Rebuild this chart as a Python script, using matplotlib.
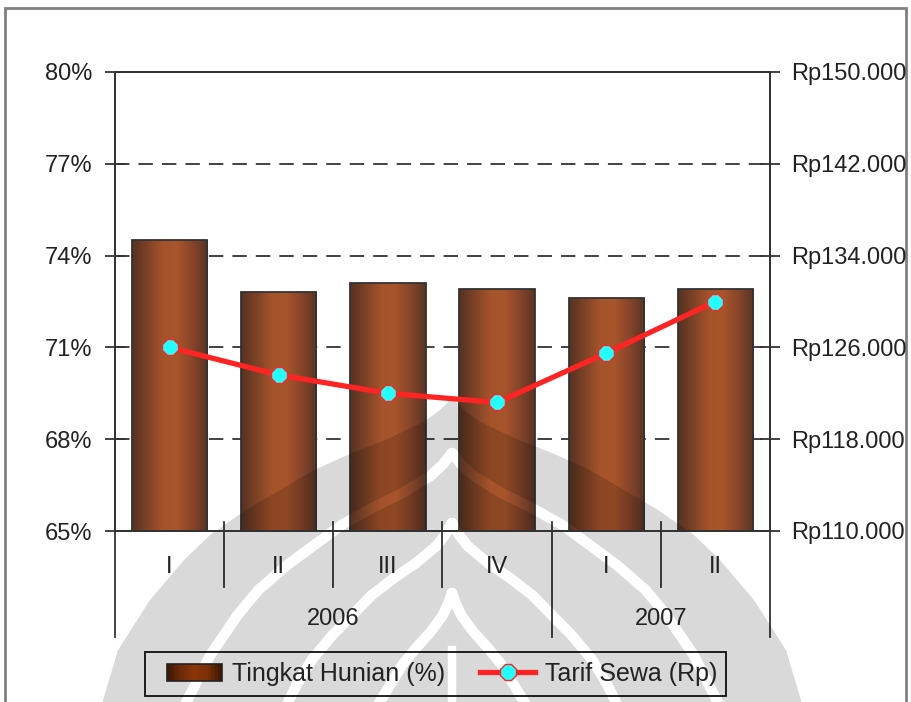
import numpy as np
import matplotlib
matplotlib.use("Agg")
import matplotlib.pyplot as plt
from matplotlib.colors import LinearSegmentedColormap
from matplotlib.legend_handler import HandlerBase
from matplotlib.lines import Line2D
from matplotlib.patches import Rectangle, Polygon
from matplotlib.transforms import blended_transform_factory

plt.rcParams["font.family"] = ["Liberation Sans", "DejaVu Sans"]

# Hotel occupancy (%) and average room rate (Rp) per quarter
PERIODS = ["I", "II", "III", "IV", "I", "II"]
YEARS = ["2006", "2007"]
YEAR_SPANS = [(0, 3), (4, 5)]          # first / last period index of each year
OCCUPANCY = [74.5, 72.8, 73.1, 72.9, 72.6, 72.9]
ROOM_RATE = [126000, 123600, 122000, 121200, 125500, 130000]

PCT_TICKS = [65, 68, 71, 74, 77, 80]
RP_TICKS = [110000, 118000, 126000, 134000, 142000, 150000]

W, H = 911, 702
INK = "#333333"
TXT = "#222222"
FS = 17


def fx(px):
    return px / W


def fy(py):
    return 1 - py / H


bar_cmap = LinearSegmentedColormap.from_list(
    "bar", ["#553222", "#7c4226", "#a4532a", "#a8552b", "#86452a", "#583424"])
legend_cmap = LinearSegmentedColormap.from_list(
    "legend_bar", ["#3a1504", "#6e2a08", "#8c3609", "#7a2e07", "#3a1504"])


class GradientHandler(HandlerBase):
    """Legend key drawn as a horizontal colour gradient."""

    def __init__(self, cmap, n=40):
        super().__init__()
        self.cmap = cmap
        self.n = n

    def create_artists(self, legend, orig_handle, xdescent, ydescent,
                       width, height, fontsize, trans):
        x0, y0 = -xdescent, -ydescent
        step = width / self.n
        arts = [Rectangle((x0 + i * step, y0), step * 1.05, height,
                          facecolor=self.cmap((i + 0.5) / self.n),
                          edgecolor="none", transform=trans)
                for i in range(self.n)]
        arts.append(Rectangle((x0, y0), width, height, facecolor="none",
                              edgecolor=TXT, lw=1.2, transform=trans))
        return arts


def watermark_mask():
    """Rasterised outline of the faint logo behind the chart."""
    left = [(452, 398), (440, 410), (425, 421), (390, 438), (352, 453),
            (314, 470), (280, 490), (246, 510), (210, 535), (184, 560),
            (150, 600), (118, 650), (103, 700), (98, 760)]
    outline = left + [(904 - x, y) for x, y in reversed(left)]

    mfig = plt.figure(figsize=(W / 100, H / 100), dpi=100)
    m = mfig.add_axes([0, 0, 1, 1])
    m.set_xlim(0, W)
    m.set_ylim(H, 0)
    m.axis("off")
    m.add_patch(Polygon(outline, closed=True, fc="k", ec="none"))
    for k, d in [(0.80, 55), (0.58, 125), (0.36, 195)]:
        pts = np.array([(452 + (x - 452) * k, y + d) for x, y in outline])
        m.plot(pts[:, 0], pts[:, 1], color="w", lw=7.5, solid_capstyle="round")
    m.plot([452, 452], [650, 760], color="w", lw=6)
    mfig.canvas.draw()
    buf = np.asarray(mfig.canvas.buffer_rgba())[..., 0].astype(float)
    plt.close(mfig)
    return 1 - buf / 255.0


fig = plt.figure(figsize=(W / 100, H / 100), dpi=100)
fig.patch.set_facecolor("white")

ax = fig.add_axes([fx(115), fy(531), fx(770) - fx(115), fy(72) - fy(531)])
ax.set_zorder(1)
x = np.arange(len(PERIODS))

# bars with a cylinder-like shading
bars = ax.bar(x, OCCUPANCY, width=0.69, facecolor="none",
              edgecolor=INK, lw=1.3, zorder=3)
grad = np.linspace(0, 1, 256).reshape(1, -1)
for b in bars:
    im = ax.imshow(grad, cmap=bar_cmap, aspect="auto", zorder=2,
                   extent=[b.get_x(), b.get_x() + b.get_width(),
                           PCT_TICKS[0], b.get_height()])
    im.set_clip_path(b)

for v in PCT_TICKS[1:-1]:
    ax.axhline(v, color=INK, lw=1.3, ls=(0, (8, 5)), zorder=1)

ax.set_xlim(-0.5, len(PERIODS) - 0.5)
ax.set_ylim(PCT_TICKS[0], PCT_TICKS[-1])
ax.set_yticks(PCT_TICKS)
ax.set_yticklabels([f"{v}%" for v in PCT_TICKS])
ax.tick_params(axis="y", direction="inout", length=14, width=1.3, color=INK,
               labelsize=FS, labelcolor=TXT, pad=9.4)
ax.tick_params(axis="x", length=0, labelbottom=False)
for s in ax.spines.values():
    s.set_color(INK)
    s.set_linewidth(1.3)

# room rate on the secondary axis
ax2 = ax.twinx()
ax2.set_zorder(3)
ax2.plot(x, ROOM_RATE, color="#ff2424", lw=3.8, marker="8", ms=12.5,
         mfc="#22ffff", mec="#ff2424", mew=1, zorder=5)
ax2.set_ylim(RP_TICKS[0], RP_TICKS[-1])
ax2.set_yticks(RP_TICKS)
ax2.set_yticklabels([f"Rp{v:,}".replace(",", ".") for v in RP_TICKS])
ax2.tick_params(axis="y", direction="inout", length=14, width=1.3, color=INK,
                labelsize=FS, labelcolor=TXT, pad=7.9)
for s in ax2.spines.values():
    s.set_color(INK)
    s.set_linewidth(1.3)

# faint logo behind the plot
mask = watermark_mask()
wm = fig.add_axes([0, 0, 1, 1], zorder=2)
wm.axis("off")
overlay = np.zeros((mask.shape[0], mask.shape[1], 4))
overlay[..., 3] = mask * 0.15
wm.imshow(overlay, extent=[0, W, H, 0], aspect="auto", interpolation="none")
wm.set_xlim(0, W)
wm.set_ylim(H, 0)

# two-level category axis
trans = blended_transform_factory(ax.transData, fig.transFigure)
for i, lab in enumerate(PERIODS):
    fig.text(i, fy(567), lab, transform=trans, ha="center", va="center",
             fontsize=FS, color=TXT)
for yr, (a, b) in zip(YEARS, YEAR_SPANS):
    fig.text((a + b) / 2, fy(619), yr, transform=trans, ha="center",
             va="center", fontsize=FS, color=TXT)

year_edges = [a - 0.5 for a, _ in YEAR_SPANS] + [YEAR_SPANS[-1][1] + 0.5]
for edge in np.arange(-0.5, len(PERIODS), 1.0):
    outer = edge in (year_edges[0], year_edges[-1])
    top = 531 if outer else 522
    bottom = 637 if edge in year_edges else 587
    fig.add_artist(Line2D([edge, edge], [fy(top), fy(bottom)],
                          transform=trans, color=INK, lw=1.3))

# legend, with its box drawn separately
bar_key = Rectangle((0, 0), 1, 1)
line_key = Line2D([], [], color="#ff2424", lw=3.8, marker="8", ms=12.5,
                  mfc="#22ffff", mec="#ff2424", mew=1)
leg = fig.legend([bar_key, line_key], ["Tingkat Hunian (%)", "Tarif Sewa (Rp)"],
                 loc="center left", bbox_to_anchor=(fx(167), fy(674)), ncol=2,
                 fontsize=18, frameon=False, handlelength=2.2,
                 handletextpad=0.4, columnspacing=1.4, borderpad=0,
                 borderaxespad=0, numpoints=1,
                 handler_map={bar_key: GradientHandler(legend_cmap)})
for t in leg.get_texts():
    t.set_color(TXT)
fig.add_artist(Rectangle((fx(145), fy(696)), fx(726) - fx(145),
                         fy(652) - fy(696), transform=fig.transFigure,
                         fill=False, edgecolor="#111111", lw=1.3))

# page border
fig.add_artist(Rectangle((fx(5), -0.02), fx(906) - fx(5), fy(8) + 0.02,
                         transform=fig.transFigure, fill=False,
                         edgecolor="#808080", lw=2))

fig.savefig("out.png", dpi=100)
